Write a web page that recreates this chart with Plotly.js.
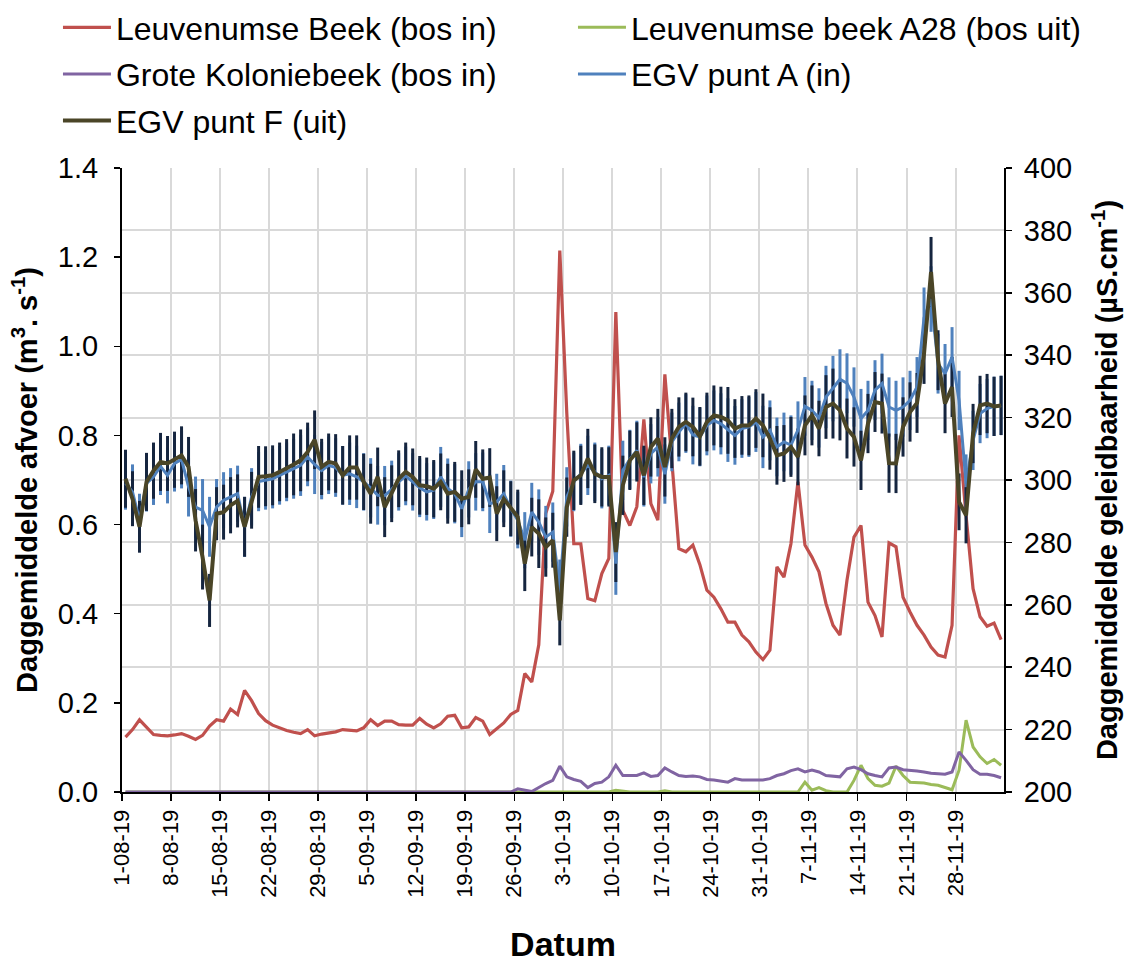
<!DOCTYPE html>
<html>
<head>
<meta charset="utf-8">
<script src="https://cdn.plot.ly/plotly-3.0.1.min.js"></script>
<style>
  html, body { margin: 0; padding: 0; background: #ffffff; }
  #chart { width: 1131px; height: 963px; }
</style>
</head>
<body>
<div id="chart"></div>
<script>
// Daily means, 1 Aug 2019 – 4 Dec 2019 (one value per day)
const startDate = '2019-08-01';
const nDays = 126;

// Discharge (m3/s), left axis
const leuvenumseBeek = [
  0.123, 0.140, 0.162, 0.145, 0.129, 0.127, 0.126, 0.128, 0.131, 0.125,
  0.118, 0.127, 0.148, 0.162, 0.159, 0.186, 0.174, 0.228, 0.205, 0.176,
  0.160, 0.150, 0.144, 0.138, 0.134, 0.131, 0.140, 0.126, 0.130, 0.132,
  0.135, 0.140, 0.138, 0.137, 0.144, 0.162, 0.149, 0.159, 0.159, 0.151,
  0.150, 0.150, 0.165, 0.152, 0.144, 0.153, 0.170, 0.172, 0.144, 0.146,
  0.167, 0.159, 0.129, 0.142, 0.155, 0.174, 0.183, 0.266, 0.247, 0.330,
  0.625, 0.675, 1.215, 0.850, 0.557, 0.557, 0.434, 0.429, 0.490, 0.524,
  1.077, 0.632, 0.598, 0.640, 0.836, 0.647, 0.610, 0.937, 0.750, 0.546,
  0.539, 0.554, 0.510, 0.453, 0.437, 0.411, 0.381, 0.381, 0.352, 0.337,
  0.314, 0.297, 0.318, 0.505, 0.482, 0.557, 0.696, 0.554, 0.527, 0.494,
  0.423, 0.374, 0.352, 0.475, 0.572, 0.598, 0.426, 0.396, 0.348, 0.559,
  0.550, 0.437, 0.404, 0.374, 0.352, 0.325, 0.307, 0.303, 0.374, 0.800,
  0.620, 0.456, 0.393, 0.372, 0.379, 0.342
];

const leuvenumseBeekA28 = [
  0, 0, 0, 0, 0, 0, 0, 0, 0, 0,
  0, 0, 0, 0, 0, 0, 0, 0, 0, 0,
  0, 0, 0, 0, 0, 0, 0, 0, 0, 0,
  0, 0, 0, 0, 0, 0, 0, 0, 0, 0,
  0, 0, 0, 0, 0, 0, 0, 0, 0, 0,
  0, 0, 0, 0, 0, 0, 0, 0, 0, 0,
  0, 0, 0, 0, 0, 0, 0, 0, 0, 0,
  0.004, 0.002, 0, 0, 0, 0, 0, 0.003, 0, 0,
  0, 0, 0, 0, 0, 0, 0, 0, 0, 0,
  0, 0, 0, 0, 0, 0, 0, 0.022, 0.004, 0.010,
  0.003, 0, 0, 0, 0.026, 0.060, 0.030, 0.015, 0.013, 0.020,
  0.058, 0.037, 0.022, 0.021, 0.020, 0.017, 0.015, 0.010, 0.005, 0.049,
  0.161, 0.101, 0.079, 0.064, 0.073, 0.060
];

const groteKoloniebeek = [
  0, 0, 0, 0, 0, 0, 0, 0, 0, 0,
  0, 0, 0, 0, 0, 0, 0, 0, 0, 0,
  0, 0, 0, 0, 0, 0, 0, 0, 0, 0,
  0, 0, 0, 0, 0, 0, 0, 0, 0, 0,
  0, 0, 0, 0, 0, 0, 0, 0, 0, 0,
  0, 0, 0, 0, 0, 0, 0.007, 0.004, 0.001, 0.010,
  0.019, 0.026, 0.058, 0.034, 0.028, 0.024, 0.010, 0.019, 0.022, 0.034,
  0.060, 0.037, 0.037, 0.037, 0.043, 0.035, 0.037, 0.054, 0.045, 0.037,
  0.035, 0.036, 0.034, 0.028, 0.027, 0.025, 0.022, 0.030, 0.027, 0.027,
  0.027, 0.027, 0.030, 0.037, 0.041, 0.048, 0.052, 0.045, 0.049, 0.045,
  0.037, 0.035, 0.034, 0.052, 0.056, 0.050, 0.041, 0.037, 0.034, 0.054,
  0.056, 0.050, 0.049, 0.047, 0.045, 0.042, 0.041, 0.040, 0.045, 0.090,
  0.071, 0.050, 0.040, 0.040, 0.037, 0.032
];

// Electrical conductivity (µS/cm), right axis
const egvPuntA = [
  299.0, 296.2, 287.1, 298.9, 301.0, 304.4, 301.5, 305.3, 306.6, 297.8,
  291.3, 290.3, 285.0, 291.3, 293.5, 294.6, 295.6, 285.0, 294.6, 299.5,
  300.0, 300.4, 301.5, 302.6, 303.6, 304.7, 307.4, 305.0, 303.0, 304.7,
  304.0, 301.5, 302.0, 301.0, 299.4, 297.5, 295.1, 295.0, 297.0, 299.4,
  301.3, 299.4, 297.5, 296.2, 296.7, 301.0, 297.3, 295.6, 290.8, 297.0,
  299.4, 299.4, 292.4, 293.0, 295.6, 290.8, 287.1, 280.7, 289.7, 286.5,
  281.7, 283.3, 265.0, 294.6, 299.4, 302.0, 304.7, 302.6, 300.4, 301.5,
  273.2, 303.1, 306.6, 309.5, 300.9, 308.4, 310.6, 301.9, 312.2, 315.4,
  318.1, 314.4, 313.8, 317.5, 319.1, 318.0, 316.0, 314.3, 316.5, 317.0,
  318.6, 313.8, 315.9, 310.6, 312.2, 311.2, 316.0, 323.6, 322.3, 319.9,
  326.6, 329.3, 332.3, 331.0, 326.6, 319.7, 322.3, 328.8, 330.9, 323.4,
  322.3, 323.4, 325.5, 329.8, 352.0, 358.0, 337.3, 334.1, 339.4, 325.5,
  298.8, 312.7, 321.3, 322.9, 323.6, 323.9
];
const egvPuntASd = [
  8.5, 8.8, 8.5, 9.0, 9.0, 9.2, 9.0, 9.0, 9.3, 9.5,
  9.8, 10.0, 9.6, 9.0, 9.0, 9.2, 9.0, 9.6, 9.2, 9.5,
  9.5, 9.5, 9.4, 9.4, 9.6, 9.8, 9.4, 9.5, 9.2, 9.2,
  9.4, 9.4, 10.0, 10.0, 9.2, 9.5, 9.4, 9.5, 9.2, 9.2,
  9.4, 9.2, 9.4, 9.2, 9.2, 9.6, 9.6, 9.5, 9.1, 9.0,
  9.2, 9.4, 9.4, 9.0, 9.2, 9.0, 9.0, 9.0, 9.4, 10.5,
  10.0, 9.5, 9.5, 9.5, 9.4, 9.6, 9.5, 9.4, 9.5, 9.5,
  10.0, 9.5, 9.5, 9.5, 9.4, 9.5, 9.5, 9.5, 9.4, 9.4,
  9.4, 9.4, 9.4, 9.6, 9.6, 9.8, 10.2, 9.4, 9.4, 9.6,
  9.6, 10.0, 9.6, 9.4, 9.4, 9.5, 9.2, 9.4, 9.5, 9.5,
  10.0, 10.5, 9.6, 9.6, 9.5, 9.5, 9.5, 9.6, 9.6, 9.5,
  9.5, 9.5, 9.5, 9.6, 9.7, 10.5, 9.6, 9.5, 9.6, 9.5,
  9.4, 9.5, 9.5, 9.5, 9.5, 9.5
];

const egvPuntF = [
  300.4, 294.0, 285.0, 299.4, 303.0, 305.8, 305.3, 306.5, 307.9, 304.2,
  287.1, 275.3, 261.4, 289.2, 289.7, 291.9, 293.3, 285.0, 293.5, 301.0,
  301.2, 301.5, 302.6, 303.7, 305.0, 306.3, 309.0, 312.9, 304.2, 305.8,
  305.3, 301.5, 304.0, 304.0, 299.4, 295.6, 301.0, 291.3, 295.6, 300.4,
  302.6, 301.0, 298.3, 298.0, 297.2, 299.4, 295.6, 296.2, 294.0, 294.6,
  303.4, 300.4, 300.8, 289.2, 294.0, 290.8, 288.1, 273.2, 284.9, 282.8,
  278.5, 280.7, 255.0, 291.3, 299.9, 301.5, 306.9, 302.0, 301.0, 301.0,
  276.9, 298.3, 306.3, 309.0, 301.5, 310.6, 313.3, 304.2, 313.3, 317.0,
  318.6, 317.0, 314.0, 318.6, 320.7, 320.2, 319.1, 316.5, 317.5, 317.5,
  319.7, 317.5, 313.3, 307.9, 308.5, 310.6, 307.4, 317.5, 320.7, 316.5,
  323.4, 324.5, 322.3, 316.5, 313.8, 306.3, 318.1, 325.0, 324.5, 305.4,
  305.3, 317.0, 321.8, 324.7, 340.5, 366.7, 338.4, 324.5, 329.8, 293.0,
  288.7, 314.9, 323.9, 324.5, 323.6, 323.9
];
const egvPuntFSd = [
  9.3, 8.8, 8.3, 9.3, 9.0, 9.3, 8.8, 9.0, 9.3, 9.6,
  10.0, 10.4, 8.5, 8.5, 8.8, 9.0, 8.5, 9.6, 9.1, 9.9,
  9.6, 9.6, 9.4, 9.4, 9.9, 9.9, 9.4, 9.4, 9.0, 9.1,
  9.4, 9.4, 10.3, 10.3, 9.0, 9.6, 9.4, 9.6, 9.1, 9.1,
  9.4, 9.1, 9.4, 9.2, 9.2, 9.1, 9.6, 9.6, 9.1, 8.8,
  9.1, 9.4, 9.4, 8.8, 9.1, 8.8, 8.8, 8.8, 9.4, 11.0,
  9.5, 8.8, 8.0, 9.5, 9.5, 9.5, 9.5, 9.4, 9.5, 9.5,
  9.6, 9.5, 9.5, 9.5, 9.5, 9.5, 9.5, 9.5, 9.5, 9.5,
  9.4, 9.4, 9.4, 9.4, 9.6, 9.7, 10.7, 9.4, 9.4, 9.6,
  9.4, 10.2, 10.0, 9.4, 9.1, 9.6, 9.1, 9.6, 9.6, 8.9,
  10.2, 11.2, 9.6, 9.6, 9.5, 9.5, 9.5, 9.6, 9.6, 9.5,
  9.5, 9.5, 9.5, 9.6, 9.7, 11.2, 9.6, 9.5, 9.6, 9.1,
  9.0, 9.5, 9.5, 9.5, 9.5, 9.5
];

// Calendar days, each daily mean placed at midday
const dates = [];
(function () {
  const d0 = new Date(startDate + 'T12:00:00Z');
  for (let i = 0; i < nDays; i++) {
    const d = new Date(d0.getTime() + i * 86400000);
    dates.push(d.toISOString().slice(0, 10) + ' 12:00');
  }
})();

const FONT = 'Liberation Sans, Arial, sans-serif';
const C_RED = '#C0504D';
const C_GREEN = '#9BBB59';
const C_PURPLE = '#8064A2';
const C_BLUE = '#4F81BD';
const C_OLIVE = '#4A4527';
const C_NAVY = '#15253F';

// Legend is laid out in two columns: 'legend' (left) and 'legend2' (right)
const traces = [
  { x: dates, y: leuvenumseBeek, name: 'Leuvenumse Beek (bos in)', type: 'scatter', mode: 'lines',
    line: { color: C_RED, width: 3.2 }, yaxis: 'y', legend: 'legend', legendgroup: 'a' },
  { x: dates, y: leuvenumseBeekA28, name: 'Leuvenumse beek A28 (bos uit)', type: 'scatter', mode: 'lines',
    line: { color: C_GREEN, width: 3 }, yaxis: 'y', legend: 'legend2', legendgroup: 'b' },
  { x: dates, y: groteKoloniebeek, name: 'Grote Koloniebeek (bos in)', type: 'scatter', mode: 'lines',
    line: { color: C_PURPLE, width: 3 }, yaxis: 'y', legend: 'legend', legendgroup: 'c' },
  // spread bars (standard deviation) drawn beneath the mean lines
  { x: dates, y: egvPuntA, type: 'scatter', mode: 'markers', showlegend: false, hoverinfo: 'skip',
    marker: { size: 2, opacity: 0 }, yaxis: 'y2',
    error_y: { type: 'data', array: egvPuntASd, visible: true, color: C_BLUE, thickness: 3, width: 0 } },
  { x: dates, y: egvPuntF, type: 'scatter', mode: 'markers', showlegend: false, hoverinfo: 'skip',
    marker: { size: 2, opacity: 0 }, yaxis: 'y2',
    error_y: { type: 'data', array: egvPuntFSd, visible: true, color: C_NAVY, thickness: 3, width: 0 } },
  { x: dates, y: egvPuntA, name: 'EGV punt A (in)', type: 'scatter', mode: 'lines',
    line: { color: C_BLUE, width: 3 }, yaxis: 'y2', legend: 'legend2', legendgroup: 'd' },
  { x: dates, y: egvPuntF, name: 'EGV punt F (uit)', type: 'scatter', mode: 'lines',
    line: { color: C_OLIVE, width: 4 }, yaxis: 'y2', legend: 'legend', legendgroup: 'e' }
];

// plot area: 882 x 624 px starting at (122, 168); legends sit in the top margin
const legendBase = {
  orientation: 'v',
  xref: 'paper', yref: 'container',
  y: 1.0095, xanchor: 'left', yanchor: 'top',
  itemwidth: 48,
  font: { family: FONT, size: 32, color: '#000000' },
  bgcolor: 'rgba(0,0,0,0)',
  traceorder: 'grouped',
  tracegroupgap: 2
};

const layout = {
  width: 1131,
  height: 963,
  paper_bgcolor: '#ffffff',
  plot_bgcolor: '#ffffff',
  font: { family: FONT, color: '#000000', size: 28 },
  margin: { l: 122, r: 127, t: 168, b: 171, pad: 0 },
  showlegend: true,
  legend: Object.assign({}, legendBase, { x: -0.0726 }),
  legend2: Object.assign({}, legendBase, { x: 0.5113 }),
  xaxis: {
    type: 'date',
    range: ['2019-08-01', '2019-12-04 22:00'],
    tick0: '2019-08-01',
    dtick: 7 * 86400000,
    tickformat: '%-d-%m-%y',
    tickangle: -90,
    tickfont: { family: FONT, size: 22, color: '#000000' },
    ticks: 'outside', ticklen: 7, tickwidth: 1.5, tickcolor: '#000000',
    showgrid: true, gridcolor: '#d9d9d9', gridwidth: 2,
    showline: true, linecolor: '#000000', linewidth: 2,
    zeroline: false,
    title: { text: '<b>Datum</b>', font: { family: FONT, size: 34, color: '#000000' }, standoff: 36 }
  },
  yaxis: {
    range: [0, 1.4],
    dtick: 0.2,
    tickformat: '.1f',
    tickfont: { family: FONT, size: 29, color: '#000000' },
    ticks: 'outside', ticklen: 6, tickwidth: 1.5, tickcolor: '#000000',
    ticklabelstandoff: 10,
    showgrid: false, zeroline: false,
    showline: true, linecolor: '#000000', linewidth: 2,
    title: { text: '<b>Daggemiddelde afvoer (m<sup>3</sup>. s<sup>-1</sup>)</b>',
             font: { family: FONT, size: 29, color: '#000000' }, standoff: 12 }
  },
  yaxis2: {
    overlaying: 'y',
    side: 'right',
    range: [200, 400],
    dtick: 20,
    tickfont: { family: FONT, size: 29, color: '#000000' },
    ticks: 'outside', ticklen: 6, tickwidth: 1.5, tickcolor: '#000000',
    ticklabelstandoff: 6,
    showgrid: true, gridcolor: '#d9d9d9', gridwidth: 2,
    zeroline: false,
    showline: true, linecolor: '#000000', linewidth: 2,
    title: { text: '<b>Daggemiddelde geleidbaarheid (µS.cm<sup>-1</sup>)</b>',
             font: { family: FONT, size: 29, color: '#000000' }, standoff: 26 }
  }
};

Plotly.newPlot('chart', traces, layout, { displayModeBar: false, staticPlot: true });
</script>
</body>
</html>
